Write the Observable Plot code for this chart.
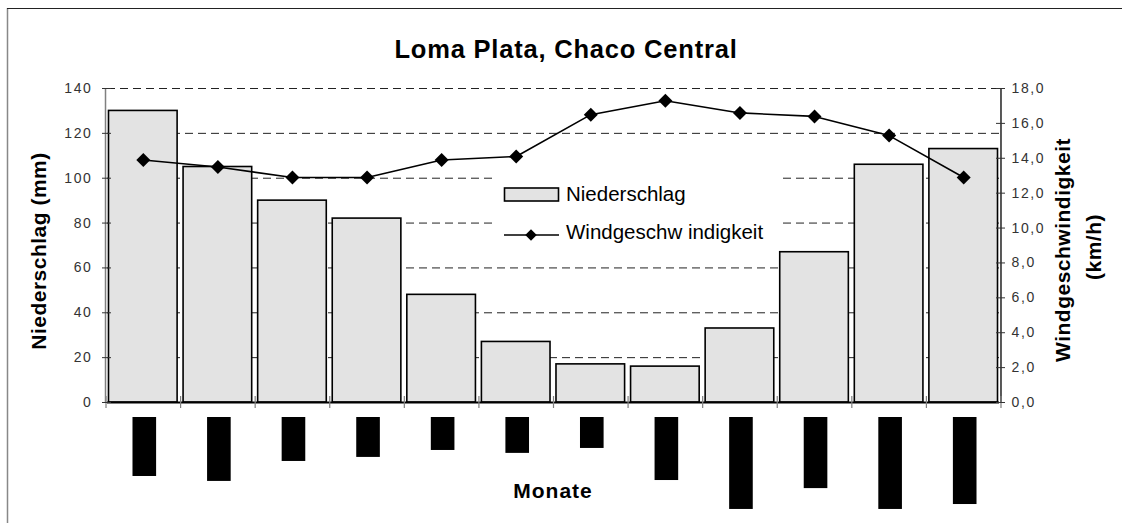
<!DOCTYPE html>
<html>
<head>
<meta charset="utf-8">
<script src="https://cdn.jsdelivr.net/npm/d3@7"></script>
<script src="https://cdn.jsdelivr.net/npm/@observablehq/plot@0.6"></script>
<style>
  body { margin: 0; background: #fff; }
  #chart { position: relative; width: 1122px; height: 523px; overflow: hidden; }
  #chart svg { display: block; }
  g[aria-label="y-axis tick label"] text { letter-spacing: 1.6px; }
</style>
</head>
<body>
<div id="chart"></div>
<script>
// ---- data ----
const months = ["Januar","Februar","März","April","Mai","Juni","Juli","August","September","Oktober","November","Dezember"];
const niederschlag = [130, 105, 90, 82, 48, 27, 17, 16, 33, 67, 106, 113];      // mm
const wind = [13.9, 13.5, 12.9, 12.9, 13.9, 14.1, 16.5, 17.3, 16.6, 16.4, 15.3, 12.9]; // km/h
// length of the (blacked-out) month label blocks, in left-axis units
const labelBlock = [26.3, 28.5, 19.6, 17.8, 14.7, 16.0, 13.8, 28.1, 41.0, 31.7, 41.0, 38.8];
const leftTicks = [0, 20, 40, 60, 80, 100, 120, 140];
const rightTicks = [0, 2, 4, 6, 8, 10, 12, 14, 16, 18];
const title = "Loma Plata, Chaco Central";
const yLabel = "Niederschlag (mm)";
const y2Label = ["Windgeschwindigkeit", "(km/h)"];
const xLabel = "Monate";
const legendLabels = ["Niederschlag", "Windgeschw indigkeit"];

// ---- layout ----
const W = 1122, H = 523;
const mL = 107, mR = 123, mT = 88, mB = 121;
const padIn = 0.08, padOut = 0.02;
const step = (W - mL - mR) / (months.length - padIn + 2 * padOut);
const leftMax = 140, rightMax = 18;
const k = leftMax / rightMax;           // right-axis units -> left-axis units
const pxPerUnit = (H - mB - mT) / leftMax;
const blockGap = 15 / pxPerUnit;

const rows = months.map((m, i) => ({
  m, n: niederschlag[i], w: wind[i] * k,
  b1: -blockGap, b2: -(blockGap + labelBlock[i])
}));

const FONT = "'Liberation Sans', Arial, sans-serif";

const plot = Plot.plot({
  width: W, height: H,
  marginLeft: mL, marginRight: mR, marginTop: mT, marginBottom: mB,
  x: { domain: months, paddingInner: padIn, paddingOuter: padOut, round: false, axis: null },
  y: { domain: [0, leftMax], axis: null },
  style: { fontFamily: FONT, background: "transparent", overflow: "visible" },
  marks: [
    // dashed gridlines
    Plot.ruleY(leftTicks.filter(d => d > 0), { stroke: "#222", strokeWidth: 1, strokeDasharray: "8,5" }),
    // precipitation bars
    Plot.barY(rows, { x: "m", y: "n", fill: "#e3e3e3", stroke: "#000", strokeWidth: 1.6 }),
    // axis lines
    Plot.ruleX([months[0]], { x: d => d, dx: -step / 2 - 0.5, y1: 0, y2: leftMax, stroke: "#808080", strokeWidth: 1.5 }),
    Plot.ruleX([months[months.length - 1]], { x: d => d, dx: step / 2, y1: 0, y2: leftMax, stroke: "#222", strokeWidth: 1.5 }),
    Plot.ruleY([0], { stroke: "#000", strokeWidth: 2 }),
    // x boundary ticks
    Plot.ruleX(months, { x: d => d, dx: -step / 2, y1: 0, y2: 0, insetTop: -6, insetBottom: -6, stroke: "#808080", strokeWidth: 1.2 }),
    Plot.ruleX([months[months.length - 1]], { x: d => d, dx: step / 2, y1: 0, y2: 0, insetTop: -6, insetBottom: -6, stroke: "#808080", strokeWidth: 1.2 }),
    // left axis
    Plot.axisY(leftTicks, { anchor: "left", tickSize: 9, dx: 4, tickPadding: 10, fontSize: 14, fill: "#333", stroke: "#333", strokeWidth: 1 }),
    // right axis (wind)
    Plot.axisY(rightTicks.map(d => d * k), { anchor: "right", tickSize: 9, dx: -4, tickPadding: 7, fontSize: 14, fill: "#333", stroke: "#333", strokeWidth: 1,
      tickFormat: d => (d / k).toFixed(1).replace(".", ",") }),
    // wind line
    Plot.line(rows, { x: "m", y: "w", stroke: "#000", strokeWidth: 1.6 }),
    Plot.dot(rows, { x: "m", y: "w", symbol: "diamond2", r: 6.3, fill: "#000", stroke: "none" }),
    // blacked-out month labels
    Plot.barY(rows, { x: "m", y1: "b1", y2: "b2", fill: "#000", insetLeft: 22.5, insetRight: 22.5, dx: 1.5, title: "m" })
  ]
});

const svg = d3.select(plot);

// outer chart border
svg.append("line").attr("x1", 7.5).attr("x2", 7.5).attr("y1", 8).attr("y2", H).attr("stroke", "#888").attr("stroke-width", 1.5);
svg.append("line").attr("x1", 7).attr("x2", W).attr("y1", 8.5).attr("y2", 8.5).attr("stroke", "#222").attr("stroke-width", 1);

// title
svg.append("text").attr("x", 566).attr("y", 58).attr("text-anchor", "middle")
  .attr("font-family", FONT).attr("font-weight", "bold").attr("font-size", 25.5).attr("letter-spacing", "0.8px")
  .attr("fill", "#000").text(title);

// left axis label
svg.append("text").attr("transform", "translate(46,251) rotate(-90)").attr("text-anchor", "middle")
  .attr("font-family", FONT).attr("font-weight", "bold").attr("font-size", 21).attr("letter-spacing", "0.5px")
  .attr("fill", "#000").text(yLabel);

// right axis label (two lines)
svg.append("text").attr("transform", "translate(1070,250) rotate(-90)").attr("text-anchor", "middle")
  .attr("font-family", FONT).attr("font-weight", "bold").attr("font-size", 21).attr("letter-spacing", "0.5px")
  .attr("fill", "#000").text(y2Label[0]);
svg.append("text").attr("transform", "translate(1101,247) rotate(-90)").attr("text-anchor", "middle")
  .attr("font-family", FONT).attr("font-weight", "bold").attr("font-size", 21).attr("letter-spacing", "0.5px")
  .attr("fill", "#000").text(y2Label[1]);

// x axis label
svg.append("text").attr("x", 553).attr("y", 498).attr("text-anchor", "middle")
  .attr("font-family", FONT).attr("font-weight", "bold").attr("font-size", 21).attr("letter-spacing", "1px")
  .attr("fill", "#000").text(xLabel);

// legend
const lg = svg.append("g").attr("text-anchor", "start");
lg.append("rect").attr("x", 495).attr("y", 172).attr("width", 288).attr("height", 78).attr("fill", "#fff");
lg.append("rect").attr("x", 504.5).attr("y", 188).attr("width", 54).attr("height", 13)
  .attr("fill", "#e3e3e3").attr("stroke", "#000").attr("stroke-width", 1.6);
lg.append("text").attr("x", 566).attr("y", 201).attr("text-anchor", "start").attr("font-family", FONT).attr("font-size", 20.5)
  .attr("fill", "#000").text(legendLabels[0]);
lg.append("line").attr("x1", 504).attr("x2", 559).attr("y1", 235).attr("y2", 235).attr("stroke", "#000").attr("stroke-width", 1.6);
lg.append("path").attr("d", d3.symbol(d3.symbolDiamond2, Math.PI * 5.2 * 5.2)()).attr("transform", "translate(531,235)").attr("fill", "#000");
lg.append("text").attr("x", 566).attr("y", 239).attr("text-anchor", "start").attr("font-family", FONT).attr("font-size", 20.5)
  .attr("fill", "#000").text(legendLabels[1]);

document.getElementById("chart").appendChild(plot);
</script>
</body>
</html>
